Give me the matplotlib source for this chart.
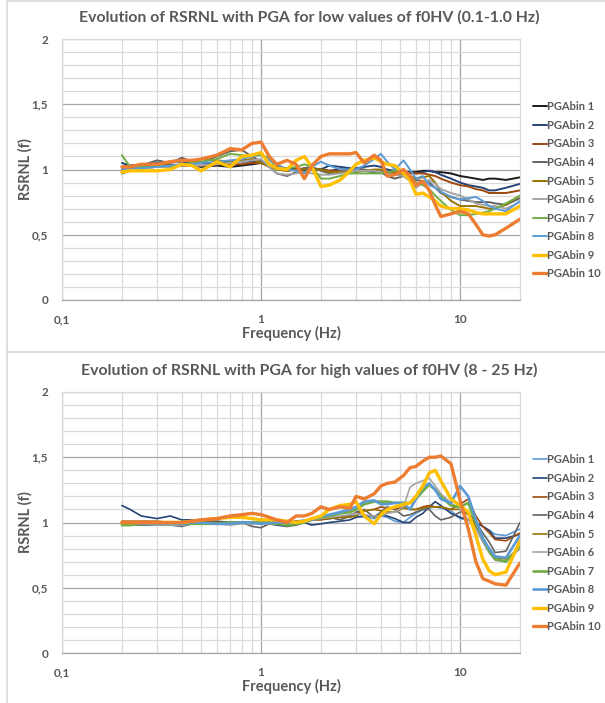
import numpy as np
import matplotlib
matplotlib.use("Agg")
import matplotlib.pyplot as plt
from matplotlib.ticker import FixedLocator, MultipleLocator, FuncFormatter
from matplotlib.patches import Rectangle

plt.rcParams['font.family'] = ['Lato', 'DejaVu Sans']

# DATA
freq = [0.2, 0.22, 0.25, 0.3, 0.35, 0.4, 0.45, 0.5, 0.6, 0.7, 0.8, 0.9, 1.0,
        1.1, 1.2, 1.35, 1.5, 1.65, 1.8, 2.0, 2.2, 2.5, 2.8, 3.0, 3.3, 3.7,
        4.0, 4.3, 4.7, 5.2, 5.6, 6.0, 6.5, 7.0, 7.5, 8.0, 9.0, 10, 11, 12,
        13, 14, 15, 17, 20]

labels = ['PGAbin 1', 'PGAbin 2', 'PGAbin 3', 'PGAbin 4', 'PGAbin 5',
          'PGAbin 6', 'PGAbin 7', 'PGAbin 8', 'PGAbin 9', 'PGAbin 10']

# low f0HV (0.1-1.0 Hz)
low_1 = [1.00, 1.01, 1.02, 1.02, 1.02, 1.03, 1.03, 1.02, 1.03, 1.02, 1.03, 1.04, 1.05, 1.03, 1.01, 1.00, 1.00, 0.99, 1.00, 1.00, 0.99, 1.00, 1.00, 0.99, 0.99, 0.98, 0.98, 0.98, 0.98, 0.98, 0.98, 0.98, 0.99, 0.99, 0.98, 0.98, 0.97, 0.95, 0.94, 0.93, 0.92, 0.93, 0.93, 0.92, 0.94]
low_2 = [1.05, 1.03, 1.03, 1.05, 1.06, 1.06, 1.05, 1.05, 1.05, 1.06, 1.06, 1.06, 1.06, 1.04, 1.02, 1.01, 1.00, 1.00, 1.01, 1.00, 1.03, 1.02, 1.01, 1.01, 1.02, 1.03, 1.02, 1.00, 0.99, 0.98, 0.98, 0.97, 0.98, 0.99, 0.98, 0.96, 0.93, 0.90, 0.88, 0.87, 0.86, 0.84, 0.84, 0.86, 0.89]
low_3 = [1.02, 1.03, 1.04, 1.04, 1.04, 1.03, 1.03, 1.03, 1.04, 1.04, 1.04, 1.05, 1.05, 1.03, 1.00, 0.99, 1.00, 1.01, 1.00, 1.00, 0.99, 0.99, 0.99, 0.99, 0.99, 0.99, 0.98, 0.98, 0.98, 0.98, 0.97, 0.97, 0.97, 0.96, 0.95, 0.93, 0.90, 0.88, 0.87, 0.85, 0.84, 0.82, 0.82, 0.82, 0.84]
low_4 = [0.97, 0.99, 1.03, 1.07, 1.05, 1.09, 1.06, 1.05, 1.10, 1.14, 1.15, 1.10, 1.06, 1.02, 0.97, 0.95, 0.98, 1.01, 1.02, 0.99, 0.97, 0.98, 1.00, 1.01, 1.00, 0.98, 0.98, 0.95, 0.93, 0.95, 0.93, 0.92, 0.91, 0.90, 0.86, 0.82, 0.79, 0.77, 0.76, 0.75, 0.75, 0.75, 0.74, 0.73, 0.78]
low_5 = [1.00, 1.01, 1.01, 1.02, 1.02, 1.03, 1.05, 1.08, 1.07, 1.06, 1.07, 1.08, 1.05, 1.02, 1.00, 0.99, 1.00, 1.00, 1.00, 1.00, 0.98, 0.98, 0.99, 0.98, 0.99, 1.00, 1.00, 0.98, 0.97, 0.96, 0.95, 0.93, 0.94, 0.95, 0.90, 0.83, 0.76, 0.72, 0.72, 0.72, 0.71, 0.70, 0.70, 0.73, 0.80]
low_6 = [1.00, 1.00, 1.01, 1.02, 1.02, 1.03, 1.03, 1.03, 1.04, 1.05, 1.06, 1.07, 1.08, 1.02, 0.97, 0.96, 0.97, 0.98, 0.97, 0.96, 0.96, 0.97, 0.98, 0.99, 0.99, 0.99, 0.98, 0.97, 0.96, 0.95, 0.91, 0.86, 0.90, 0.92, 0.89, 0.85, 0.82, 0.80, 0.77, 0.74, 0.73, 0.72, 0.72, 0.70, 0.75]
low_7 = [1.11, 1.02, 1.02, 1.03, 1.03, 1.04, 1.05, 1.06, 1.08, 1.12, 1.11, 1.10, 1.11, 1.09, 1.00, 1.01, 1.02, 1.04, 1.02, 0.93, 0.93, 0.95, 0.97, 0.97, 0.97, 0.97, 0.97, 0.98, 0.99, 1.00, 0.95, 0.90, 0.88, 0.85, 0.80, 0.76, 0.69, 0.65, 0.65, 0.66, 0.67, 0.68, 0.70, 0.74, 0.80]
low_8 = [1.00, 1.01, 1.01, 1.02, 1.03, 1.04, 1.04, 1.05, 1.06, 1.07, 1.08, 1.10, 1.12, 1.07, 1.04, 1.00, 0.99, 0.97, 1.02, 1.06, 1.03, 1.00, 1.00, 1.00, 1.03, 1.08, 1.12, 1.06, 1.00, 1.07, 1.00, 0.93, 0.95, 0.88, 0.86, 0.83, 0.79, 0.77, 0.78, 0.79, 0.76, 0.72, 0.70, 0.68, 0.76]
low_9 = [0.98, 0.99, 0.99, 0.99, 1.00, 1.04, 1.03, 0.99, 1.06, 1.02, 1.10, 1.11, 1.13, 1.04, 1.01, 1.00, 1.07, 1.10, 1.02, 0.87, 0.88, 0.92, 0.99, 1.04, 1.07, 1.09, 1.06, 1.04, 1.03, 0.97, 0.92, 0.81, 0.82, 0.79, 0.76, 0.72, 0.70, 0.70, 0.69, 0.67, 0.66, 0.66, 0.66, 0.66, 0.72]
low_10 = [1.02, 1.02, 1.04, 1.04, 1.06, 1.07, 1.07, 1.08, 1.11, 1.16, 1.15, 1.20, 1.21, 1.10, 1.04, 1.07, 1.04, 0.93, 1.03, 1.10, 1.12, 1.12, 1.12, 1.13, 1.05, 1.11, 1.07, 0.95, 0.96, 1.00, 0.95, 0.88, 0.91, 0.84, 0.73, 0.64, 0.66, 0.68, 0.66, 0.58, 0.50, 0.49, 0.50, 0.55, 0.62]

# high f0HV (8 - 25 Hz)
high_1 = [1.00, 1.00, 1.00, 0.99, 0.99, 1.00, 1.00, 1.00, 0.99, 0.99, 1.00, 1.00, 0.99, 1.00, 1.00, 1.00, 1.01, 1.02, 1.02, 1.03, 1.03, 1.04, 1.05, 1.05, 1.04, 1.03, 1.05, 1.04, 1.01, 1.00, 1.04, 1.07, 1.10, 1.11, 1.12, 1.11, 1.09, 1.03, 1.02, 1.00, 0.97, 0.94, 0.91, 0.90, 0.95]
high_2 = [1.13, 1.10, 1.05, 1.03, 1.05, 1.02, 1.02, 1.02, 1.01, 1.00, 1.00, 0.99, 1.00, 0.99, 0.98, 0.97, 1.00, 1.00, 0.98, 0.99, 1.00, 1.01, 1.02, 1.04, 1.05, 1.05, 1.06, 1.05, 1.03, 1.00, 1.00, 1.04, 1.07, 1.12, 1.16, 1.13, 1.07, 1.04, 1.02, 1.00, 0.97, 0.94, 0.88, 0.88, 0.91]
high_3 = [1.01, 1.01, 1.01, 1.01, 1.00, 1.00, 1.00, 1.01, 1.00, 1.00, 1.00, 1.00, 1.00, 1.01, 1.00, 1.00, 1.01, 1.01, 1.02, 1.02, 1.03, 1.04, 1.06, 1.07, 1.09, 1.10, 1.12, 1.11, 1.10, 1.12, 1.10, 1.10, 1.12, 1.13, 1.12, 1.12, 1.10, 1.14, 1.18, 1.05, 0.97, 0.92, 0.87, 0.86, 0.92]
high_4 = [0.98, 0.98, 0.98, 0.98, 0.98, 0.97, 0.99, 1.00, 1.00, 1.00, 1.00, 0.97, 0.96, 0.99, 1.00, 0.97, 0.98, 1.00, 1.02, 1.03, 1.04, 1.02, 1.05, 1.08, 1.10, 1.04, 1.08, 1.12, 1.10, 1.05, 1.06, 1.08, 1.10, 1.10, 1.05, 1.02, 1.04, 1.08, 1.08, 1.00, 0.92, 0.85, 0.77, 0.78, 1.00]
high_5 = [1.00, 1.00, 1.00, 1.00, 0.99, 0.99, 1.00, 1.00, 1.00, 1.00, 1.00, 1.00, 1.00, 1.00, 0.99, 0.99, 1.00, 1.01, 1.02, 1.03, 1.03, 1.04, 1.04, 1.05, 1.09, 1.10, 1.09, 1.08, 1.08, 1.11, 1.10, 1.10, 1.11, 1.12, 1.12, 1.12, 1.10, 1.10, 1.06, 0.97, 0.87, 0.80, 0.73, 0.72, 0.80]
high_6 = [0.99, 0.99, 0.99, 0.98, 0.98, 0.98, 0.99, 0.99, 0.99, 0.98, 0.99, 0.99, 0.99, 0.99, 0.99, 0.99, 1.00, 1.01, 1.02, 1.03, 1.04, 1.05, 1.06, 1.07, 1.06, 1.05, 1.05, 1.07, 1.08, 1.12, 1.27, 1.30, 1.32, 1.34, 1.28, 1.22, 1.15, 1.10, 1.02, 0.95, 0.85, 0.77, 0.71, 0.70, 0.80]
high_7 = [0.98, 0.98, 0.99, 0.99, 0.99, 0.99, 0.99, 0.99, 0.99, 1.00, 1.00, 1.00, 1.00, 1.00, 0.99, 0.98, 0.99, 1.00, 1.02, 1.04, 1.05, 1.07, 1.08, 1.10, 1.14, 1.16, 1.16, 1.16, 1.15, 1.15, 1.15, 1.18, 1.24, 1.29, 1.25, 1.20, 1.13, 1.12, 1.15, 1.00, 0.88, 0.78, 0.72, 0.70, 0.82]
high_8 = [1.00, 1.00, 0.99, 0.99, 0.99, 0.99, 1.00, 1.00, 0.99, 0.99, 1.00, 1.00, 0.99, 1.00, 1.00, 1.00, 1.00, 1.01, 1.02, 1.05, 1.06, 1.08, 1.10, 1.12, 1.16, 1.17, 1.14, 1.14, 1.15, 1.15, 1.10, 1.18, 1.27, 1.30, 1.25, 1.18, 1.15, 1.28, 1.20, 1.02, 0.88, 0.80, 0.74, 0.73, 0.90]
high_9 = [1.00, 1.00, 1.00, 1.00, 1.00, 1.00, 1.01, 1.02, 1.03, 1.04, 1.04, 1.03, 1.02, 1.02, 1.02, 1.01, 1.00, 1.01, 1.03, 1.05, 1.10, 1.13, 1.14, 1.16, 1.05, 0.99, 1.06, 1.10, 1.12, 1.14, 1.15, 1.20, 1.28, 1.38, 1.40, 1.32, 1.18, 1.13, 1.08, 0.90, 0.72, 0.63, 0.60, 0.62, 0.86]
high_10 = [1.00, 1.00, 1.00, 1.00, 1.00, 1.00, 1.01, 1.02, 1.03, 1.05, 1.06, 1.07, 1.06, 1.04, 1.02, 1.00, 1.05, 1.05, 1.07, 1.12, 1.10, 1.12, 1.11, 1.20, 1.18, 1.22, 1.28, 1.30, 1.31, 1.36, 1.42, 1.43, 1.47, 1.50, 1.50, 1.51, 1.45, 1.17, 0.95, 0.70, 0.57, 0.55, 0.53, 0.52, 0.69]

low_series = [low_1, low_2, low_3, low_4, low_5, low_6, low_7, low_8, low_9, low_10]
high_series = [high_1, high_2, high_3, high_4, high_5, high_6, high_7, high_8, high_9, high_10]

titles = ['Evolution of RSRNL with PGA for low values of f0HV (0.1-1.0 Hz)',
          'Evolution of RSRNL with PGA for high values of f0HV (8 - 25 Hz)']

# STYLE
low_colors = ['#1a1a1a', '#264478', '#9E480E', '#636363', '#997300',
              '#A5A5A5', '#70AD47', '#5B9BD5', '#FFC000', '#ED7D31']
high_colors = ['#5B9BD5'] + low_colors[1:]
low_widths = [1.4] * 8 + [2.4, 2.4]
high_widths = [1.2] * 6 + [1.9, 1.9, 2.4, 2.4]
txt = '#595959'

W, H = 605, 703
fig = plt.figure(figsize=(W / 100, H / 100), dpi=100)
fig.patch.set_facecolor('white')

# panel frames (excel chart borders)
fig.add_artist(Rectangle((7 / W, 1 - 352 / H), 1.0, 351 / H, transform=fig.transFigure,
                         fill=False, edgecolor='#D9D9D9', linewidth=1.2))
fig.add_artist(Rectangle((7 / W, -0.01), 1.0, 1 - 352 / H + 0.01, transform=fig.transFigure,
                         fill=False, edgecolor='#D9D9D9', linewidth=1.2))


def comma(v, pos):
    return ('%g' % v).replace('.', ',')


def panel(top_px, series, colors, widths, title, title_y):
    ax = fig.add_axes([62 / W, 1 - (top_px + 261) / H, 458 / W, 261 / H])
    for vals, c, lw, lab in zip(series, colors, widths, labels):
        ax.plot(freq, vals, color=c, lw=lw, label=lab,
                solid_joinstyle='round', solid_capstyle='round')
    ax.set_xscale('log')
    ax.set_xlim(0.1, 20)
    ax.set_ylim(0, 2)
    ax.xaxis.set_major_locator(FixedLocator([0.1, 1, 10]))
    ax.xaxis.set_minor_locator(FixedLocator([0.2, 0.3, 0.4, 0.5, 0.6, 0.7, 0.8, 0.9,
                                             2, 3, 4, 5, 6, 7, 8, 9]))
    ax.xaxis.set_major_formatter(FuncFormatter(comma))
    ax.xaxis.set_minor_formatter(FuncFormatter(lambda v, p: ''))
    ax.yaxis.set_major_locator(MultipleLocator(0.5))
    ax.yaxis.set_minor_locator(MultipleLocator(0.1))
    ax.yaxis.set_major_formatter(FuncFormatter(comma))
    ax.grid(which='major', color='#A6A6A6', lw=0.9)
    ax.grid(which='minor', color='#D9D9D9', lw=0.9)
    ax.set_axisbelow(True)
    ax.tick_params(which='both', length=0, labelsize=8.5, labelcolor=txt)
    ax.tick_params(axis='x', pad=10)
    ax.tick_params(axis='y', pad=10)
    for lab in ax.get_xticklabels() + ax.get_yticklabels():
        lab.set_fontweight('bold')
    for s in ax.spines.values():
        s.set_color('#D9D9D9')
        s.set_linewidth(0.9)
    ax.spines['bottom'].set_color('#A6A6A6')
    ax.set_xlabel('Frequency (Hz)', fontsize=10.5, fontweight='bold', color=txt)
    ax.set_ylabel('RSRNL (f)', fontsize=10.5, fontweight='bold', color=txt)
    ax.xaxis.set_label_coords(0.5, -0.10)
    ax.yaxis.set_label_coords(-0.064, 0.5)
    fig.text(309 / W, 1 - title_y / H, title, ha='center', va='center',
             fontsize=11.4, fontweight='bold', color=txt)
    leg = ax.legend(loc='center left', bbox_to_anchor=(1.0, 0.42), frameon=False,
                    handlelength=1.3, handletextpad=0.0, labelspacing=0.68,
                    borderaxespad=0.75, prop={'size': 8.0, 'weight': 'bold'})
    for t in leg.get_texts():
        t.set_color(txt)
    return ax


panel(39, low_series, low_colors, low_widths, titles[0], 17)
panel(392, high_series, high_colors, high_widths, titles[1], 370)

fig.savefig('out.png', dpi=100, facecolor='white')
